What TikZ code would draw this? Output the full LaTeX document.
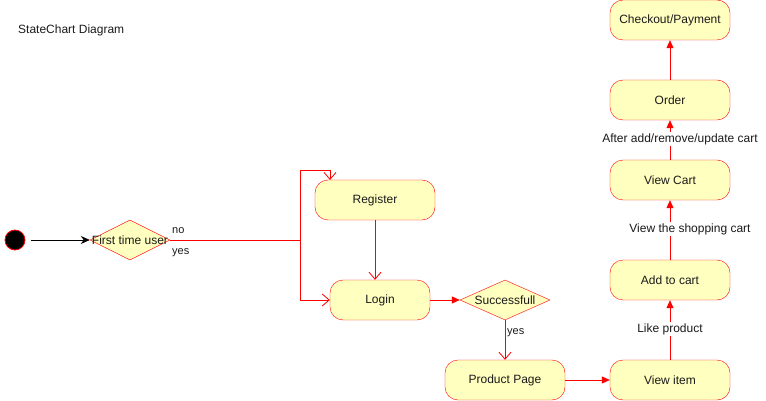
\documentclass[tikz,border=0pt]{standalone}
\usepackage{fontspec}
\setmainfont{Liberation Sans}
\usetikzlibrary{shapes.geometric,arrows.meta}
\definecolor{stfill}{HTML}{FFFFC0}
\definecolor{stred}{HTML}{FF0000}
\definecolor{sttext}{HTML}{1A1A1A}
\tikzset{
  state/.style={draw=stred, fill=stfill, rounded corners=13pt, minimum width=120pt, minimum height=40pt, inner sep=0pt, font=\fontsize{12}{14}\selectfont, text=sttext},
  decision/.style={draw=stred, fill=stfill, diamond, inner sep=0pt},
  dtext/.style={font=\fontsize{12}{14}\selectfont, text=sttext, inner sep=0pt},
  lbl/.style={font=\fontsize{11}{13}\selectfont, text=sttext, inner sep=0pt},
  elbl/.style={font=\fontsize{12}{14}\selectfont, text=sttext, fill=white, inner sep=1pt},
  conn/.style={draw=stred, line width=0.8pt},
  filledarr/.style={conn, -{Triangle[length=8pt,width=7pt]}},
  openarr/.style={conn, -{Straight Barb[length=7pt,width=12pt]}},
}
\begin{document}
\begin{tikzpicture}[x=1pt,y=-1pt]
\useasboundingbox (0,0) rectangle (766,401);
\node[anchor=west, font=\fontsize{12}{14}\selectfont, text=sttext, inner sep=0pt] (title) at (18,30) {StateChart Diagram};
\node[circle, draw=stred, fill=black, minimum size=20pt, inner sep=0pt, line width=0.8pt] (init) at (15,240) {};
\node[decision, minimum width=80pt, minimum height=40pt] (ftu) at (130,240) {};
\node[dtext] (ftut) at (130,240) {First time user};
\node[state, minimum width=120pt] (reg) at (375,200) {Register};
\node[state, minimum width=100pt] (login) at (380,300) {Login};
\node[decision, minimum width=90pt, minimum height=40pt] (succ) at (505,300) {};
\node[dtext] (succt) at (505,300) {Successfull};
\node[state] (prod) at (505,380) {Product Page};
\node[state] (view) at (670,380) {View item};
\node[state] (add) at (670,280) {Add to cart};
\node[state] (cart) at (670,180) {View Cart};
\node[state] (order) at (670,100) {Order};
\node[state] (pay) at (670,20) {Checkout/Payment};
\coordinate (j) at (300,240);
\coordinate (jt) at (300,170);
\coordinate (jb) at (300,300);
\coordinate (rt) at (330,170);
\coordinate (rin) at (330,180);
\draw[line width=0.8pt, -{Stealth[length=9pt,width=8pt]}] (init.east) ++(6,0) -- (ftu.west);
\draw[conn] (ftu.east) -- (j) -- (jt) -- (rt);
\draw[openarr] (rt) -- (rin);
\draw[openarr] (j) -- (jb) -- (login.west);
\node[lbl, anchor=west] (no) at (172,231) {no};
\node[lbl, anchor=west] (yes1) at (172,253) {yes};
\draw[openarr] (reg.south) -- (reg.south |- login.north);
\draw[filledarr] (login.east) -- (succ.west);
\draw[openarr] (succ.south) -- (prod.north);
\node[lbl, anchor=west] (yes2) at (507,333) {yes};
\draw[filledarr] (prod.east) -- (view.west);
\draw[filledarr] (view.north) -- (add.south);
\node[elbl] (likep) at (670,329) {Like product};
\draw[filledarr] (add.north) -- (cart.south);
\node[elbl] (vsc) at (690,229) {View the shopping cart};
\draw[filledarr] (cart.north) -- (order.south);
\node[elbl] (aft) at (680,139) {After add/remove/update cart};
\draw[filledarr] (order.north) -- (pay.south);
\end{tikzpicture}
\end{document}
